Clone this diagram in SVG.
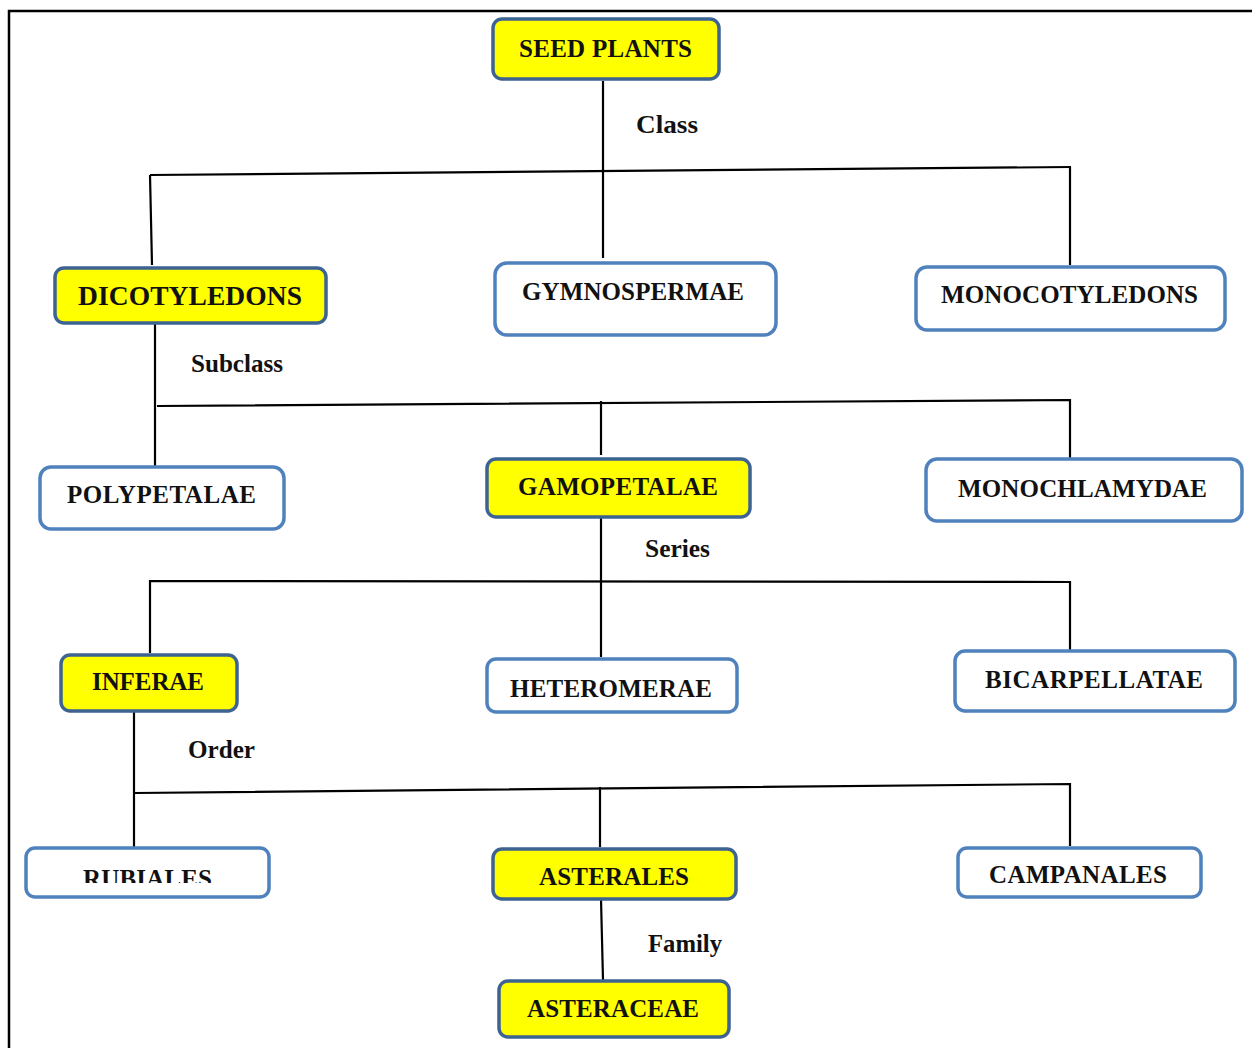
<svg xmlns="http://www.w3.org/2000/svg" width="1252" height="1048" viewBox="0 0 1252 1048">
<defs>
<style>
.box{fill:#fff;stroke:#4f81bd;stroke-width:3.5}
.hl{fill:#ffff00;stroke:#3d6393;stroke-width:3.5}
.t{font-family:"Liberation Serif","Times New Roman",serif;font-weight:bold;font-size:25px;fill:#111}
.lbl{font-family:"Liberation Serif","Times New Roman",serif;font-weight:bold;font-size:25px;fill:#111}
.c{fill:none;stroke:#000;stroke-width:2.2}
.frame{fill:none;stroke:#000;stroke-width:2.5}
</style>
<clipPath id="rubClip"><rect x="0" y="0" width="1252" height="883"/></clipPath>
</defs>
<rect width="1252" height="1048" fill="#fff"/>
<path class="frame" d="M9,1048 V11 H1252"/>

<g id="connectors">
<path class="c" d="M603,81 V258"/>
<path class="c" d="M150,175 L1071,167"/>
<path class="c" d="M150,175 L152,265"/>
<path class="c" d="M1070,167 V265"/>
<path class="c" d="M155,324 V466"/>
<path class="c" d="M157,406 L1070,400 V458"/>
<path class="c" d="M601,401 V455"/>
<path class="c" d="M601,518 V657"/>
<path class="c" d="M150,653 V581 L1070,582 V651"/>
<path class="c" d="M134,711 V847"/>
<path class="c" d="M135,793 L1070,784 V846"/>
<path class="c" d="M600,787 V847"/>
<path class="c" d="M601,899 L603,980"/>
<text class="lbl" x="636" y="133" textLength="62" lengthAdjust="spacingAndGlyphs">Class</text>
<text class="lbl" x="191" y="372" textLength="92" lengthAdjust="spacingAndGlyphs">Subclass</text>
<text class="lbl" x="645" y="557" textLength="65" lengthAdjust="spacingAndGlyphs">Series</text>
<text class="lbl" x="188" y="758" textLength="67" lengthAdjust="spacingAndGlyphs">Order</text>
<text class="lbl" x="648" y="952" textLength="74" lengthAdjust="spacingAndGlyphs">Family</text>
</g>

<g id="seed-plants">
<rect class="hl" x="493" y="19" width="226" height="60" rx="9"/>
<text class="t" x="519" y="57" textLength="173">SEED PLANTS</text>
</g>
<g id="dicotyledons">
<rect class="hl" x="55" y="268" width="271" height="55" rx="9"/>
<text class="t" x="78" y="305" textLength="224" style="font-size:27.5px">DICOTYLEDONS</text>
</g>
<g id="gymnospermae">
<rect class="box" x="495" y="263" width="281" height="72" rx="12"/>
<text class="t" x="522" y="300" textLength="222">GYMNOSPERMAE</text>
</g>
<g id="monocotyledons">
<rect class="box" x="916" y="267" width="309" height="63" rx="11"/>
<text class="t" x="941" y="303" textLength="257">MONOCOTYLEDONS</text>
</g>
<g id="polypetalae">
<rect class="box" x="40" y="467" width="244" height="62" rx="11"/>
<text class="t" x="67" y="503" textLength="189">POLYPETALAE</text>
</g>
<g id="gamopetalae">
<rect class="hl" x="487" y="459" width="263" height="58" rx="9"/>
<text class="t" x="518" y="495" textLength="200">GAMOPETALAE</text>
</g>
<g id="monochlamydae">
<rect class="box" x="926" y="459" width="316" height="62" rx="11"/>
<text class="t" x="958" y="497" textLength="249">MONOCHLAMYDAE</text>
</g>
<g id="inferae">
<rect class="hl" x="61" y="655" width="176" height="56" rx="9"/>
<text class="t" x="92" y="690" textLength="112">INFERAE</text>
</g>
<g id="heteromerae">
<rect class="box" x="487" y="659" width="250" height="53" rx="9"/>
<text class="t" x="510" y="697" textLength="202">HETEROMERAE</text>
</g>
<g id="bicarpellatae">
<rect class="box" x="955" y="651" width="280" height="60" rx="10"/>
<text class="t" x="985" y="688" textLength="218">BICARPELLATAE</text>
</g>
<g id="rubiales">
<rect class="box" x="26" y="848" width="243" height="49" rx="9"/>
<text class="t" x="83" y="887" textLength="129" clip-path="url(#rubClip)">RUBIALES</text>
</g>
<g id="asterales">
<rect class="hl" x="493" y="849" width="243" height="50" rx="9"/>
<text class="t" x="539" y="885" textLength="150">ASTERALES</text>
</g>
<g id="campanales">
<rect class="box" x="958" y="848" width="243" height="49" rx="9"/>
<text class="t" x="989" y="883" textLength="178">CAMPANALES</text>
</g>
<g id="asteraceae">
<rect class="hl" x="499" y="981" width="230" height="56" rx="9"/>
<text class="t" x="527" y="1017" textLength="172">ASTERACEAE</text>
</g>
</svg>
